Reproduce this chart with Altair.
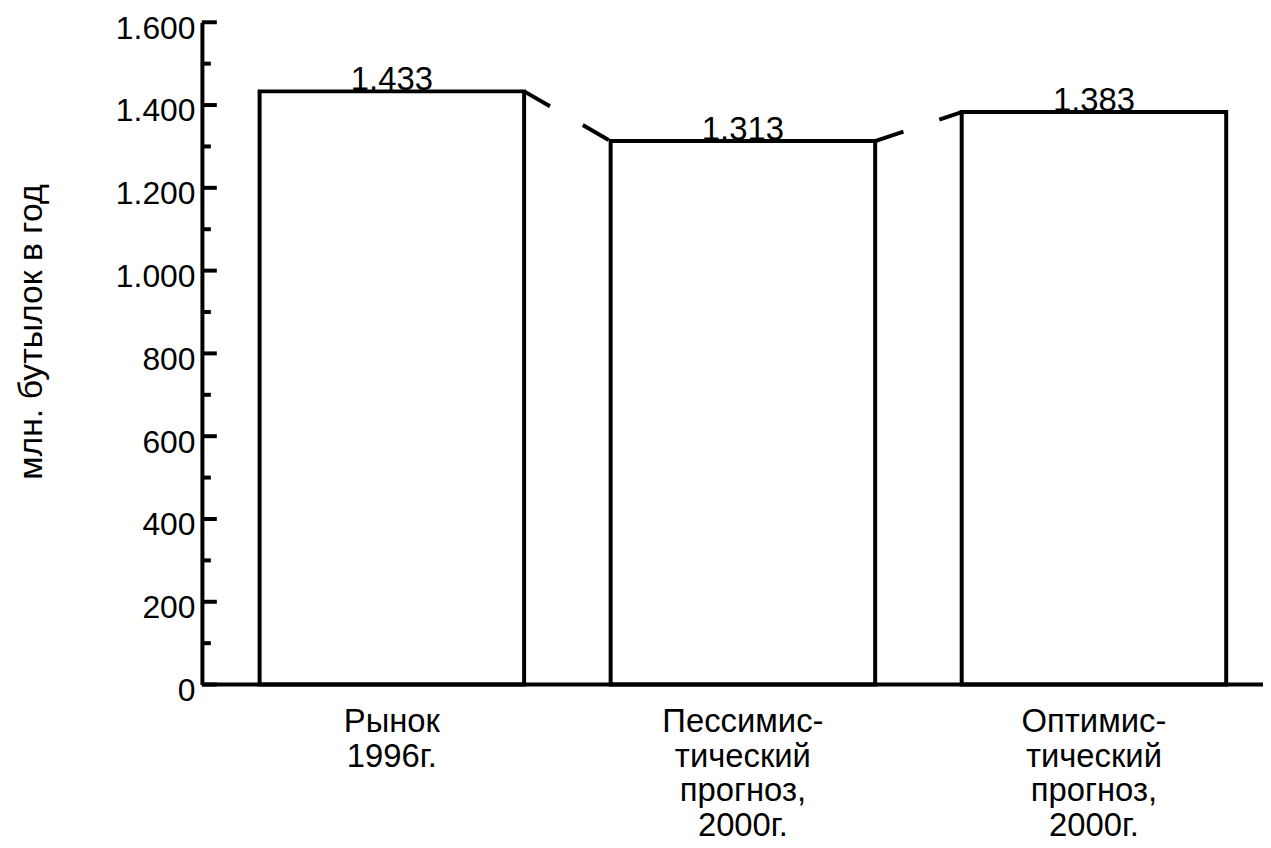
import altair as alt
import pandas as pd

# ---- data ----
categories = [
    "Рынок\n1996г.",
    "Пессимис-\nтический\nпрогноз,\n2000г.",
    "Оптимис-\nтический\nпрогноз,\n2000г.",
]
values = [1433, 1313, 1383]
major_ticks = [0, 200, 400, 600, 800, 1000, 1200, 1400, 1600]
minor_ticks = [100, 300, 500, 700, 900, 1100, 1300, 1500]
y_title = "млн. бутылок в год"

FONT = "Liberation Sans"
FS = 33
W, H = 1067, 666

bars_df = pd.DataFrame({"cat": categories, "value": values})
conn_df = pd.DataFrame({
    "from": categories[:-1],
    "to": categories[1:],
    "fv": values[:-1],
    "tv": values[1:],
})
major_df = pd.DataFrame({"v": major_ticks})
minor_df = pd.DataFrame({"v": minor_ticks})
base_df = pd.DataFrame({"v": [0]})

xscale = alt.Scale(domain=categories, range=[58, 1030], paddingInner=0.2465, paddingOuter=0)
yscale = alt.Scale(domain=[0, 1600], nice=False)

x_axis = alt.Axis(
    title=None, domain=False, ticks=False, grid=False, labelAngle=0,
    labelFont=FONT, labelFontSize=FS, labelColor="black",
    labelLineHeight=35, labelPadding=21, labelBaseline="top",
    labelExpr="split(datum.label, '\\n')",
)
y_axis = alt.Axis(
    values=major_ticks, grid=False, ticks=False, tickSize=0,
    domainColor="black", domainWidth=4,
    labelFont=FONT, labelFontSize=32, labelColor="black", labelPadding=7,
    labelOffset=6,
    labelExpr="replace(format(datum.value, ','), ',', '.')",
    title=y_title, titleFont=FONT, titleFontSize=34, titleFontWeight="normal",
    titleColor="black", titleAngle=270, titleX=-161, titleY=311,
    titleAlign="center", titleBaseline="alphabetic",
)

bars = alt.Chart(bars_df).mark_bar(fill="white", stroke="black", strokeWidth=4).encode(
    x=alt.X("cat:N", scale=xscale, sort=categories, axis=x_axis),
    y=alt.Y("value:Q", scale=yscale, axis=y_axis),
)

connectors = alt.Chart(conn_df).mark_rule(
    color="black", strokeWidth=4, strokeDash=[30, 38], strokeCap="butt"
).encode(
    x=alt.X("from:N", scale=xscale, bandPosition=1),
    x2=alt.X2("to:N", bandPosition=0),
    y=alt.Y("fv:Q", scale=yscale),
    y2=alt.Y2("tv:Q"),
)

major = alt.Chart(major_df).mark_rule(color="black", strokeWidth=4).encode(
    y=alt.Y("v:Q", scale=yscale),
    x=alt.value(0), x2=alt.value(15),
)
minor = alt.Chart(minor_df).mark_rule(color="black", strokeWidth=4).encode(
    y=alt.Y("v:Q", scale=yscale),
    x=alt.value(0), x2=alt.value(9),
)
baseline = alt.Chart(base_df).mark_rule(color="black", strokeWidth=4).encode(
    y=alt.Y("v:Q", scale=yscale),
    x=alt.value(0), x2=alt.value(W),
)

labels = alt.Chart(bars_df).transform_calculate(
    label="replace(format(datum.value, ','), ',', '.')"
).mark_text(
    font=FONT, fontSize=FS, color="black", baseline="alphabetic", dy=-1
).encode(
    x=alt.X("cat:N", scale=xscale, sort=categories),
    y=alt.Y("value:Q", scale=yscale),
    text="label:N",
)

chart = alt.layer(bars, connectors, major, minor, baseline, labels).properties(
    width=W, height=H,
    autosize=alt.AutoSizeParams(type="none"),
    padding={"left": 195, "top": 12, "right": 0, "bottom": 160},
).configure(
    background="white",
    view=alt.ViewConfig(strokeWidth=0),
    axis=alt.AxisConfig(domainColor="black", domainWidth=4, grid=False),
)

chart.save("out.html", embed_options={"renderer": "svg", "actions": False})
